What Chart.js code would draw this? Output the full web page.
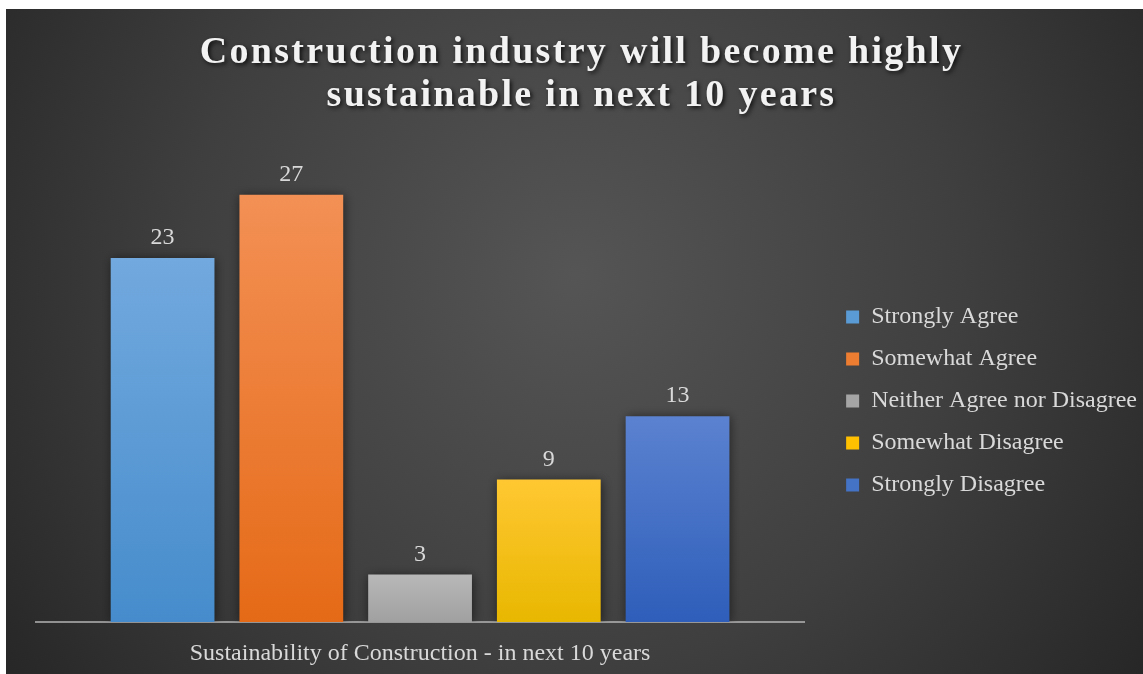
<!DOCTYPE html>
<html>
<head>
<meta charset="utf-8">
<script src="https://cdn.jsdelivr.net/npm/chart.js@4"></script>
<style>
  html, body { margin: 0; padding: 0; background: #ffffff; }
  #wrap { position: absolute; left: 6px; top: 9px; width: 1137px; height: 665px; }
</style>
</head>
<body>
<div id="wrap"><canvas id="barChart"></canvas></div>
<script>
var titleLines = ['Construction industry will become highly', 'sustainable in next 10 years'];
var categories = ['Sustainability of Construction - in next 10 years'];
var seriesNames = ['Strongly Agree', 'Somewhat Agree', 'Neither Agree nor Disagree', 'Somewhat Disagree', 'Strongly Disagree'];
var seriesValues = [23, 27, 3, 9, 13];
// top / bottom colour of each bar's gradient
var topColors = ['#72a9de', '#f39055', '#b8b8b8', '#ffc832', '#5b82d0'];
var bottomColors = ['#468ccc', '#e56a17', '#a0a0a0', '#e8b700', '#2e5eba'];
var legendColors = ['#5b9bd5', '#ed7d31', '#a5a5a5', '#ffc000', '#4472c4'];

var serif = "'Liberation Serif', 'Times New Roman', serif";
var textGrey = '#d9d9d9';

function barGradient(i) {
  return function (ctx) {
    var chart = ctx.chart;
    var area = chart.chartArea;
    if (!area) return legendColors[i];
    var y = chart.scales.y;
    var top = y.getPixelForValue(seriesValues[i]);
    var bottom = y.getPixelForValue(0);
    var g = chart.ctx.createLinearGradient(0, top, 0, bottom);
    g.addColorStop(0, topColors[i]);
    g.addColorStop(1, bottomColors[i]);
    return g;
  };
}

var datasets = seriesNames.map(function (name, i) {
  return {
    label: name,
    data: [seriesValues[i]],
    backgroundColor: barGradient(i),
    borderWidth: 0,
    categoryPercentage: 0.838,
    barPercentage: 0.806
  };
});

// dark radial background + bold shadowed title
var backdrop = {
  id: 'backdrop',
  beforeDraw: function (chart) {
    var c = chart.ctx, w = chart.width, h = chart.height;
    c.save();
    var g = c.createRadialGradient(w * 0.5, h * 0.4, 0, w * 0.5, h * 0.4, w * 0.62);
    g.addColorStop(0, '#555555');
    g.addColorStop(0.55, '#3f3f3f');
    g.addColorStop(1, '#262626');
    c.fillStyle = g;
    c.fillRect(0, 0, w, h);
    c.restore();
  },
  afterDraw: function (chart) {
    var c = chart.ctx;
    c.save();
    c.font = 'bold 38px ' + serif;
    c.letterSpacing = '2.3px';
    c.textAlign = 'center';
    c.textBaseline = 'alphabetic';
    c.fillStyle = '#f2f2f2';
    c.shadowColor = 'rgba(0,0,0,0.75)';
    c.shadowBlur = 4;
    c.shadowOffsetX = 2;
    c.shadowOffsetY = 2;
    titleLines.forEach(function (line, k) {
      c.fillText(line, chart.width / 2 + 7, 54 + k * 43);
    });
    c.restore();
  }
};

// soft shadow behind bars
var barShadow = {
  id: 'barShadow',
  beforeDatasetsDraw: function (chart) {
    chart.ctx.save();
    chart.ctx.shadowColor = 'rgba(0,0,0,0.55)';
    chart.ctx.shadowBlur = 10;
    chart.ctx.shadowOffsetX = 1;
    chart.ctx.shadowOffsetY = 1;
  },
  afterDatasetsDraw: function (chart) {
    chart.ctx.restore();
  }
};

// value labels above bars
var valueLabels = {
  id: 'valueLabels',
  afterDatasetsDraw: function (chart) {
    var c = chart.ctx;
    c.save();
    c.font = '24px ' + serif;
    c.fillStyle = textGrey;
    c.textAlign = 'center';
    c.textBaseline = 'alphabetic';
    chart.data.datasets.forEach(function (ds, i) {
      var meta = chart.getDatasetMeta(i);
      meta.data.forEach(function (bar, j) {
        c.fillText(String(ds.data[j]), bar.x, bar.y - 14);
      });
    });
    c.restore();
  }
};

var barChart = new Chart(document.getElementById('barChart').getContext('2d'), {
  type: 'bar',
  data: { labels: categories, datasets: datasets },
  options: {
    responsive: true,
    maintainAspectRatio: false,
    animation: false,
    layout: { padding: { left: 30, top: 124, bottom: 5, right: -4 } },
    plugins: {
      title: { display: false },
      tooltip: { enabled: false },
      legend: {
        position: 'right',
        maxWidth: 400,
        labels: {
          color: textGrey,
          font: { family: serif, size: 24 },
          boxWidth: 13,
          boxHeight: 13,
          padding: 18,
          generateLabels: function (chart) {
            return seriesNames.map(function (name, i) {
              return { text: name, fillStyle: legendColors[i], strokeStyle: legendColors[i], lineWidth: 0, fontColor: textGrey, datasetIndex: i };
            });
          }
        }
      }
    },
    scales: {
      x: {
        z: 1,
        grid: { display: false, drawTicks: false },
        border: { display: true, color: 'rgba(200,200,200,0.65)', width: 2 },
        ticks: { color: textGrey, font: { family: serif, size: 24 }, padding: 17 },
        afterFit: function (scale) { scale.height = 47; }
      },
      y: {
        position: 'right',
        min: 0,
        max: 30.9,
        grid: { display: false, drawTicks: false },
        border: { display: false },
        ticks: { display: false },
        afterFit: function (scale) { scale.width = 24; }
      }
    }
  },
  plugins: [backdrop, barShadow, valueLabels]
});
</script>
</body>
</html>
